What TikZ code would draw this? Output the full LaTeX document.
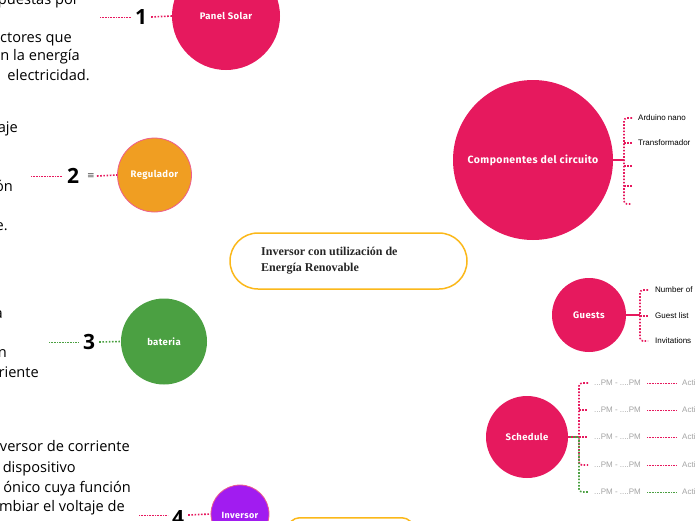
\documentclass[tikz,border=0pt]{standalone}
\usepackage{fontspec}
\setmainfont{Open Sans}
\newfontfamily\labfont[LetterSpace=4]{Fira Sans}
\newfontfamily\titlefont{Liberation Serif}
\newfontfamily\symfont{DejaVu Sans}
\newfontfamily\smallfont{Liberation Sans}
\definecolor{crim}{HTML}{E6195E}
\definecolor{orng}{HTML}{F09E22}
\definecolor{grn}{HTML}{4BA042}
\definecolor{purp}{HTML}{A11CF0}
\definecolor{ylw}{HTML}{FBB81A}
\definecolor{gry}{HTML}{A3A3A3}
\tikzset{
  bubble/.style={circle, inner sep=0pt, text=white, font=\labfont\bfseries\fontsize{9.5}{11}\selectfont, align=center},
  num/.style={inner sep=4pt, font=\bfseries\fontsize{21}{21}\selectfont},
  side/.style={anchor=base east, inner sep=0pt, font=\fontsize{14.6}{16}\selectfont},
  thindot/.style={line width=0.7pt, dash pattern=on 0.8pt off 0.8pt},
  thickdot/.style={line width=1.6pt, dash pattern=on 1.6pt off 1.6pt},
  bracket/.style={thickdot, rounded corners=3pt},
  stem/.style={line width=1.6pt},
  item/.style={anchor=west, inner sep=0pt, font=\smallfont\fontsize{8}{9}\selectfont},
  time/.style={anchor=west, inner sep=0pt, text=gry, font=\smallfont\fontsize{8}{9}\selectfont},
}
\begin{document}
\begin{tikzpicture}[x=1pt,y=-1pt]
\useasboundingbox (0,0) rectangle (696,520);
% left text fragments
\node[side] (t1) at (79,4) {puestas por};
\node[side] (t2) at (72,42) {ctores que};
\node[side] (t3) at (80,60) {n la energía};
\node[side] (t4) at (90,80) {electricidad.};
\node[side] (t5) at (18,132) {aje};
\node[side] (t6) at (13,191) {ón};
\node[side] (t7) at (8,230) {e.};
\node[side] (t8) at (3,318) {a};
\node[side] (t9) at (7,357) {n};
\node[side] (t10) at (39,377) {riente};
\node[side] (t11) at (130,451) {versor de corriente};
\node[side] (t12) at (76,472) {dispositivo};
\node[side] (t13) at (131,492) {ónico cuya función};
\node[side] (t14) at (125,511) {mbiar el voltaje de};

% central title
\node[draw=ylw, line width=1.5pt, fill=white, rounded corners=28pt, minimum width=237pt, minimum height=56pt] (main) at (348.5,261) {};
\node[anchor=west, align=left, inner sep=0pt, font=\titlefont\bfseries\fontsize{12}{16}\selectfont, text=black!85] (title) at (261,261) {Inversor con utilización de\\Energía Renovable};
% bottom yellow box
\node[draw=ylw, line width=1.5pt, rounded corners=12pt, minimum width=126pt, minimum height=40pt, anchor=north west] (bbox) at (287,517) {};

% 1 Panel Solar
\node[bubble, fill=crim, minimum size=108pt] (ps) at (226,16) {Panel Solar};
\node[num] (n1) at (141,17) {1};
\coordinate (l1) at (100,17);
\draw[thindot, crim] (l1) -- (n1.west);
\draw[thickdot, crim] (n1.east) -- (ps.west);

% 2 Regulador
\node[bubble, fill=orng, draw=crim!70, line width=0.8pt, minimum size=74pt] (reg) at (154.5,175) {Regulador};
\node[num] (n2) at (73,176) {2};
\node[inner sep=0pt, font=\symfont\fontsize{9}{9}\selectfont, text=black!70] (eq) at (91,176) {≡};
\coordinate (l2) at (31,176);
\draw[thindot, crim] (l2) -- (n2.west);
\draw[thickdot, crim] (eq.east) ++(2,0) coordinate (e2) (e2) -- (reg.west);

% 3 bateria
\node[bubble, fill=grn, minimum size=86pt] (bat) at (164,341.5) {bateria};
\node[num] (n3) at (89,342) {3};
\coordinate (l3) at (49,342);
\draw[thindot, grn] (l3) -- (n3.west);
\draw[thickdot, grn] (n3.east) -- (bat.west);

% 4 Inversor
\node[bubble, fill=purp, draw=crim!70, line width=0.8pt, minimum size=58pt] (inv) at (240,514) {};
\node[inner sep=0pt, text=white, font=\labfont\bfseries\fontsize{9}{10}\selectfont] (invt) at (240,515) {Inversor};
\node[num] (n4) at (178,518) {4};
\coordinate (l4) at (139,515);
\draw[thindot, crim] (l4) -- (n4.west |- l4);
\draw[thickdot, crim] (n4.east |- l4) -- (inv.west);

% Componentes del circuito
\node[bubble, fill=crim, minimum size=160pt, font=\labfont\bfseries\fontsize{10.5}{12}\selectfont] (comp) at (533,160) {Componentes del circuito};
\coordinate (cb) at (624,160);
\coordinate (c1) at (632,118);
\coordinate (c2) at (632,143);
\coordinate (c3) at (632,166);
\coordinate (c4) at (632,186);
\coordinate (c5) at (632,204);
\draw[stem, crim] (comp.east) -- (cb);
\draw[bracket, crim] (c1) -- (624,118) -- (624,204) -- (c5);
\draw[thickdot, crim] (624,143) -- (c2);
\draw[thickdot, crim] (624,166) -- (c3);
\draw[thickdot, crim] (624,186) -- (c4);
\node[item] (a1) at (638,118) {Arduino nano};
\node[item] (a2) at (638,143) {Transformador};

% Guests
\node[bubble, fill=crim, minimum size=74pt] (gst) at (589,315) {Guests};
\coordinate (gb) at (640,315);
\coordinate (g1) at (648,290);
\coordinate (g2) at (648,316);
\coordinate (g3) at (648,341);
\draw[stem, crim] (gst.east) -- (gb);
\draw[bracket, crim] (g1) -- (640,290) -- (640,341) -- (g3);
\draw[thickdot, crim] (640,316) -- (g2);
\node[item] (b1) at (655,290) {Number of};
\node[item] (b2) at (655,316) {Guest list};
\node[item] (b3) at (655,341) {Invitations};

% Schedule
\node[bubble, fill=crim, minimum size=82pt] (sch) at (527,437) {Schedule};
\coordinate (sb) at (579,437);
\coordinate (s1) at (588,383);
\coordinate (s2) at (588,410);
\coordinate (s3) at (588,437);
\coordinate (s4) at (588,465);
\coordinate (s5) at (588,492);
\draw[stem, grn] (sch.east) -- (sb);
\draw[thickdot, crim] (sch.east) -- (sb);
\draw[bracket, crim] (s1) -- (579,383) -- (579,465) -- (s4);
\draw[bracket, grn] (579,437) -- (579,492) -- (s5);
\draw[thickdot, crim] (579,410) -- (s2);
\draw[thickdot, crim] (579,437) -- (s3);
\node[time] (p1) at (594,383) {...PM - ....PM};
\node[time] (p2) at (594,410) {...PM - ....PM};
\node[time] (p3) at (594,437) {...PM - ....PM};
\node[time] (p4) at (594,465) {...PM - ....PM};
\node[time] (p5) at (594,492) {...PM - ....PM};
\node[time] (q1) at (682,383) {Acti};
\node[time] (q2) at (682,410) {Acti};
\node[time] (q3) at (682,437) {Acti};
\node[time] (q4) at (682,465) {Acti};
\node[time] (q5) at (682,492) {Acti};
\draw[thindot, crim] (647,383) -- (677,383);
\draw[thindot, crim] (647,410) -- (677,410);
\draw[thindot, crim] (647,437) -- (677,437);
\draw[thindot, crim] (647,465) -- (677,465);
\draw[thindot, grn] (647,492) -- (677,492);
\end{tikzpicture}
\end{document}
